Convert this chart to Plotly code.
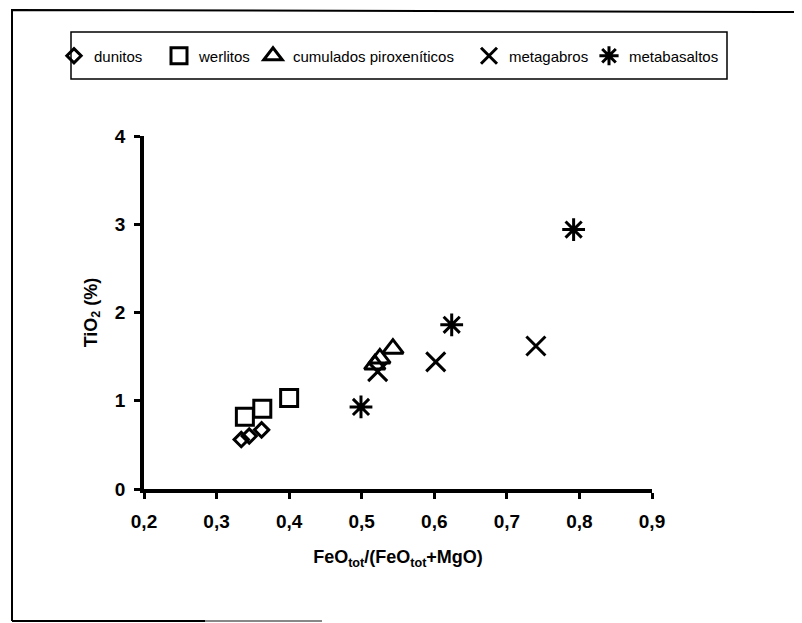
import plotly.graph_objects as go

# ---- data ----
dunitos_x = [0.334, 0.345, 0.362]
dunitos_y = [0.56, 0.60, 0.67]

werlitos_x = [0.339, 0.363, 0.400]
werlitos_y = [0.82, 0.91, 1.03]

cumulados_x = [0.518, 0.525, 0.543]
cumulados_y = [1.41, 1.48, 1.59]

metagabros_x = [0.522, 0.602, 0.740]
metagabros_y = [1.33, 1.44, 1.62]

metabasaltos_x = [0.499, 0.624, 0.792]
metabasaltos_y = [0.93, 1.86, 2.94]

x_ticks = [0.2, 0.3, 0.4, 0.5, 0.6, 0.7, 0.8, 0.9]
y_ticks = [0, 1, 2, 3, 4]

FONT = "Arial, Liberation Sans, sans-serif"
W, H = 802, 623
OFF = 8  # page body margin
# plot area in page pixels: x 144..652, y 136..489
L, T = 144 - OFF, 136 - OFF
R, B = W - (652 - OFF), H - (489 - OFF)
PW, PH = W - L - R, H - T - B


def px(x):  # page pixel -> paper
    return (x - OFF - L) / PW


def py(y):
    return (H - B - (y - OFF)) / PH


fig = go.Figure()

series = [
    ("dunitos", dunitos_x, dunitos_y, "diamond-open", 11, 73),
    ("werlitos", werlitos_x, werlitos_y, "square-open", 17, 178),
    ("cumulados piroxeníticos", cumulados_x, cumulados_y, "triangle-up-open", 18, 272),
    ("metagabros", metagabros_x, metagabros_y, "x-thin-open", 19, 488),
    ("metabasaltos", metabasaltos_x, metabasaltos_y, "asterisk-open", 19, 608),
]
legend_layout = {}
for i, (name, xs, ys, sym, size, lx) in enumerate(series):
    lname = "legend" if i == 0 else f"legend{i + 1}"
    fig.add_trace(go.Scatter(
        x=xs, y=ys, mode="markers", name=name, legend=lname,
        marker=dict(symbol=sym, size=size, color="black",
                    line=dict(color="black", width=3)),
        cliponaxis=False,
    ))
    legend_layout[lname] = dict(
        orientation="h", x=px(lx - 19), y=py(56),
        xanchor="left", yanchor="middle",
        font=dict(family=FONT, size=15, color="black"),
        bgcolor="rgba(0,0,0,0)", borderwidth=0,
        itemsizing="trace",
    )

axis_common = dict(
    showline=True, linewidth=3.5, linecolor="black",
    ticks="outside", ticklen=6, tickwidth=3, tickcolor="black",
    showgrid=False, zeroline=False,
    tickfont=dict(family=FONT, size=19, color="black", weight="bold"),
)

fig.update_xaxes(
    range=[0.2, 0.9], tickvals=x_ticks, tickformat=".1f",
    ticklabelstandoff=6,
    title=dict(text="FeO<sub>tot</sub>/(FeO<sub>tot</sub>+MgO)",
               font=dict(family=FONT, size=18, color="black", weight="bold"),
               standoff=21),
    **axis_common,
)
fig.update_yaxes(
    range=[0, 4], tickvals=y_ticks,
    ticklabelstandoff=5,
    title=dict(text="TiO<sub>2</sub> (%)",
               font=dict(family=FONT, size=18, color="black", weight="bold"),
               standoff=14),
    **axis_common,
)

frame_path = (f"M {px(12):.5f},{py(621):.5f} L {px(12):.5f},{py(10):.5f} "
              f"L {px(801):.5f},{py(12):.5f}")

shapes = [
    # outer frame (partial, as in the scan)
    dict(type="path", xref="paper", yref="paper", path=frame_path,
         line=dict(color="black", width=2)),
    dict(type="line", xref="paper", yref="paper",
         x0=px(12), y0=py(621), x1=px(205), y1=py(621),
         line=dict(color="black", width=2)),
    dict(type="line", xref="paper", yref="paper",
         x0=px(205), y0=py(621), x1=px(322), y1=py(621),
         line=dict(color="#888888", width=2)),
    # legend box
    dict(type="rect", xref="paper", yref="paper",
         x0=px(71), y0=py(32), x1=px(727), y1=py(79),
         line=dict(color="black", width=1.5), fillcolor="rgba(0,0,0,0)"),
]

fig.update_layout(
    width=W, height=H,
    margin=dict(l=L, r=R, t=T, b=B, autoexpand=False),
    paper_bgcolor="white", plot_bgcolor="white",
    separators=",.",
    font=dict(family=FONT, color="black"),
    shapes=shapes,
    showlegend=True,
    **legend_layout,
)

fig.write_html("out.html")
